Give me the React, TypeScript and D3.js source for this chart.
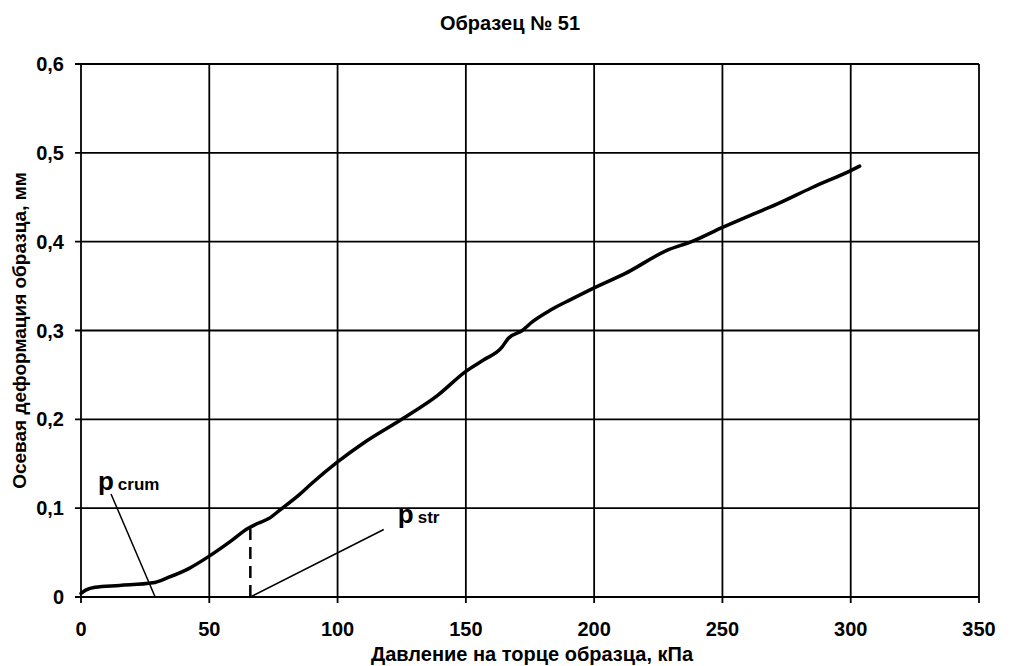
import React from "react";
import * as d3 from "d3";

const title = "Образец № 51";
const xTitle = "Давление на торце образца, кПа";
const yTitle = "Осевая деформация образца, мм";

const xTicks = [0, 50, 100, 150, 200, 250, 300, 350];
const yTicks = [0, 0.1, 0.2, 0.3, 0.4, 0.5, 0.6];

const pressure = [0, 2, 5.5, 15, 28, 34, 42, 50, 58, 65, 69, 73, 78, 85, 90, 100, 110, 125, 139, 150, 157, 164, 166.5, 172, 176, 183, 191, 200, 212, 229, 238, 250, 262, 271, 285, 300, 303.5];
const deformation = [0.004, 0.008, 0.011, 0.013, 0.016, 0.022, 0.032, 0.046, 0.062, 0.077, 0.083, 0.088, 0.099, 0.115, 0.128, 0.152, 0.173, 0.2, 0.227, 0.254, 0.267, 0.281, 0.291, 0.3, 0.31, 0.323, 0.335, 0.348, 0.364, 0.391, 0.4, 0.416, 0.431, 0.442, 0.461, 0.48, 0.485];

const crumLeaderX = [11.7, 28.9];
const crumLeaderY = [0.116, 0];
const strLeaderX = [66, 118];
const strLeaderY = [0, 0.076];
const strDashX = [66, 66];
const strDashY = [0, 0.077];
const crumLabel = { x: 6.6, y: 0.12, sub: "crum" };
const strLabel = { x: 123.5, y: 0.083, sub: "str" };

const W = 1019;
const H = 666;
const L = 81, R = 979, T = 64, B = 597;

export default function App() {
  const x = d3.scaleLinear().domain([0, 350]).range([L, R]);
  const y = d3.scaleLinear().domain([0, 0.6]).range([B, T]);
  const pts: [number, number][] = pressure.map((p, i) => [p, deformation[i]]);
  const line = d3
    .line<[number, number]>()
    .x((d) => x(d[0]))
    .y((d) => y(d[1]))
    .curve(d3.curveMonotoneX);
  const font = "'Liberation Sans', Arial, sans-serif";
  return (
    <svg
      width={W}
      height={H}
      style={{ position: "absolute", left: 0, top: 0, background: "#fff" }}
      fontFamily={font}
    >
      <rect x={0} y={0} width={W} height={H} fill="#fff" />
      <text x={510} y={30} textAnchor="middle" fontSize={20} fontWeight="bold">
        {title}
      </text>
      {/* grid */}
      {xTicks.map((t) => (
        <line key={"gx" + t} x1={x(t)} x2={x(t)} y1={T} y2={B + 6} stroke="#000" strokeWidth={1.8} />
      ))}
      {yTicks.map((t) => (
        <line key={"gy" + t} x1={L - 6} x2={R} y1={y(t)} y2={y(t)} stroke="#000" strokeWidth={1.8} />
      ))}
      {/* tick labels */}
      {xTicks.map((t) => (
        <text key={"tx" + t} x={x(t)} y={B + 39} textAnchor="middle" fontSize={20} fontWeight="bold">
          {String(t)}
        </text>
      ))}
      {yTicks.map((t) => (
        <text key={"ty" + t} x={L - 17} y={y(t) + 7} textAnchor="end" fontSize={20} fontWeight="bold">
          {t === 0 ? "0" : t.toFixed(1).replace(".", ",")}
        </text>
      ))}
      <text x={532} y={661} textAnchor="middle" fontSize={20} fontWeight="bold">
        {xTitle}
      </text>
      <text
        transform={`translate(26,${(T + B) / 2}) rotate(-90)`}
        textAnchor="middle"
        fontSize={19}
        fontWeight="bold"
      >
        {yTitle}
      </text>
      {/* annotations */}
      <line x1={x(crumLeaderX[0])} y1={y(crumLeaderY[0])} x2={x(crumLeaderX[1])} y2={y(crumLeaderY[1])} stroke="#000" strokeWidth={1.5} />
      <line x1={x(strLeaderX[0])} y1={y(strLeaderY[0])} x2={x(strLeaderX[1])} y2={y(strLeaderY[1])} stroke="#000" strokeWidth={1.5} />
      <line x1={x(strDashX[0])} y1={y(strDashY[0])} x2={x(strDashX[1])} y2={y(strDashY[1])} stroke="#000" strokeWidth={2.5} strokeDasharray="12,7" />
      <text x={x(crumLabel.x)} y={y(crumLabel.y)} fontWeight="bold">
        <tspan fontSize={26}>p</tspan>
        <tspan fontSize={17} dx={4}>{crumLabel.sub}</tspan>
      </text>
      <text x={x(strLabel.x)} y={y(strLabel.y)} fontWeight="bold">
        <tspan fontSize={26}>p</tspan>
        <tspan fontSize={17} dx={4}>{strLabel.sub}</tspan>
      </text>
      {/* curve */}
      <path d={line(pts) || ""} fill="none" stroke="#000" strokeWidth={3.5} strokeLinejoin="round" strokeLinecap="round" />
    </svg>
  );
}
